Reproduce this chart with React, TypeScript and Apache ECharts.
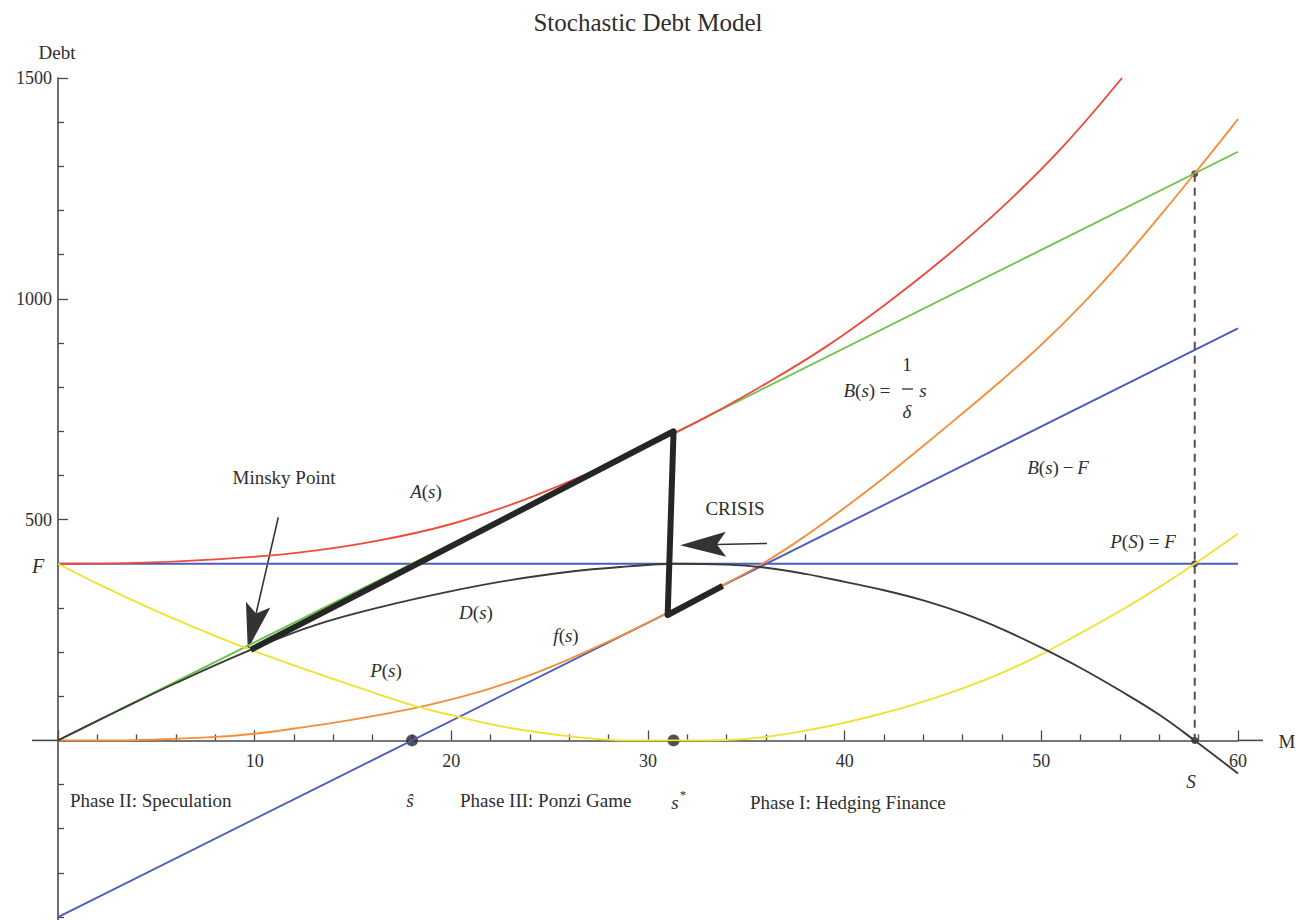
import React, { useEffect, useRef } from "react";
import * as echarts from "echarts";

const SERIF = '"Liberation Serif", "Times New Roman", serif';
const INK = "#2e2e2e";

// Curves as [s, debt] pairs
const aCurve = [
  [0, 400], [4, 402], [8, 410], [12, 424], [16, 450], [20, 490], [24, 550], [28, 625],
  [31, 688], [33, 733], [36, 808], [39, 890], [42, 985], [45, 1090], [48, 1207],
  [51, 1340], [54.1, 1500],
];
const bLine = [[0, 0], [60, 1333]];
const bMinusF = [[0, -400], [60, 933]];
const fLevel = [[0, 400], [60, 400]];
const fCurve = [
  [0, 0], [3, 0], [5, 2], [8, 8], [10, 15], [12, 27], [15, 47], [18, 72], [20, 93],
  [22, 118], [24, 148], [26, 184], [28, 224], [30, 267], [32, 311], [34, 356], [36, 405],
  [38, 463], [40, 527], [42, 595], [44, 667], [46, 741], [48, 816], [50, 896], [52, 984],
  [54, 1081], [56, 1186], [58, 1295], [60, 1407],
];
const pCurve = [
  [0, 400], [2, 355], [4.5, 303], [7, 255], [9.5, 210], [12, 170], [15, 124], [18, 80],
  [20.4, 53], [23, 28], [25.5, 12], [27.5, 3], [29, 0], [32, 0], [34, 1], [36, 8],
  [38, 22], [40, 40], [42, 62], [44, 88], [46, 118], [48, 153], [50, 195], [52, 243],
  [54, 293], [56, 347], [57.8, 400], [60, 468],
];
const dCurve = [
  [0, 0], [3, 66], [6, 130], [9.8, 205], [13, 260], [16.5, 303], [20, 338], [23, 363],
  [26, 382], [29, 394], [31.3, 400], [34, 398], [36, 391], [38, 377], [40, 359], [42, 340],
  [44, 317], [46, 288], [48, 252], [50, 210], [52, 164], [54, 113], [56, 58], [58, -7],
  [60, -75],
];
// Boom, crisis and collapse path
const cyclePath = [[9.8, 205], [31.3, 700], [31.0, 284], [33.8, 350]];
const sLine = [[57.8, 1283], [57.8, 0]];
const bigDots = [[18, 0], [31.3, 0]];
const smallDots = [[57.8, 1283], [57.8, 400], [57.8, 0]];
// Annotation arrows: [tailS, tailDebt, tipS, tipDebt]
const arrows = [
  [11.2, 505, 9.65, 206],
  [36.05, 446, 31.63, 442],
];
const xLabelSkip = [0];
const yTickLabels = [500, 1000, 1500];

const RED = "#ee4b3d";
const GREEN = "#6fc150";
const ORANGE = "#f58e3c";
const BLUE = "#4a5cbd";
const YELLOW = "#efe232";
const DARK = "#3a3a3a";

// plot frame in pixels: s = 0..60, debt = -500..1500
const GRID_TOP = 78;
const GRID_LEFT = 58;
const GRID_W = 1180;
const GRID_H = 883.2;
const ZERO_Y = GRID_TOP + (GRID_H * 1500) / 2000;

const curve = (name: string, data: number[][], color: string, smooth: boolean) => ({
  type: "line",
  name,
  data,
  symbol: "none",
  showSymbol: false,
  smooth: smooth ? 0.4 : false,
  lineStyle: { color, width: 1.9 },
  silent: true,
});

const italic = { fontStyle: "italic", fontFamily: SERIF, fontSize: 19, fill: INK };

const txt = (x: number, y: number, text: string, size = 19, align = "center") => ({
  type: "text",
  x,
  y,
  silent: true,
  style: {
    text,
    fontFamily: SERIF,
    fontSize: size,
    fill: INK,
    align,
    verticalAlign: "middle",
    rich: { i: { ...italic, fontSize: size } },
  },
});

function arrowItem(params: any, api: any) {
  const p1 = api.coord([api.value(0), api.value(1)]);
  const p2 = api.coord([api.value(2), api.value(3)]);
  const len = 46;
  const half = 12.5;
  const dx = p2[0] - p1[0];
  const dy = p2[1] - p1[1];
  const d = Math.sqrt(dx * dx + dy * dy);
  const ux = dx / d;
  const uy = dy / d;
  const base = [p2[0] - ux * len, p2[1] - uy * len];
  const notch = [p2[0] - ux * len * 0.8, p2[1] - uy * len * 0.8];
  const nx = -uy;
  const ny = ux;
  return {
    type: "group",
    children: [
      {
        type: "line",
        shape: { x1: p1[0], y1: p1[1], x2: notch[0], y2: notch[1] },
        style: { stroke: "#333", lineWidth: 1.6 },
      },
      {
        type: "polygon",
        shape: {
          points: [
            p2,
            [base[0] + nx * half, base[1] + ny * half],
            notch,
            [base[0] - nx * half, base[1] - ny * half],
          ],
        },
        style: { fill: "#333" },
      },
    ],
  };
}

export default function App() {
  const ref = useRef<HTMLDivElement>(null);

  useEffect(() => {
    if (!ref.current) return;
    const chart = echarts.init(ref.current, null, { renderer: "svg" });
    const axisColor = "#4a4a4a";
    chart.setOption({
      animation: false,
      backgroundColor: "#ffffff",
      textStyle: { fontFamily: SERIF },
      grid: {
        left: GRID_LEFT,
        top: GRID_TOP,
        width: GRID_W,
        height: GRID_H,
        containLabel: false,
        outerBoundsMode: "none",
      },
      xAxis: {
        type: "value",
        min: 0,
        max: 60,
        interval: 10,
        position: "bottom",
        offset: -(GRID_TOP + GRID_H - ZERO_Y),
        axisLine: { onZero: false, lineStyle: { color: axisColor, width: 1.6 } },
        axisTick: { inside: true, length: 10, lineStyle: { color: axisColor, width: 1.3 } },
        minorTick: { show: true, splitNumber: 5, length: 6, lineStyle: { color: axisColor, width: 1.3 } },
        splitLine: { show: false },
        axisLabel: {
          margin: 12,
          fontFamily: SERIF,
          fontSize: 18,
          color: INK,
          formatter: (v: number) => (xLabelSkip.includes(v) ? "" : String(v)),
        },
      },
      yAxis: {
        type: "value",
        min: -500,
        max: 1500,
        interval: 500,
        axisLine: { onZero: false, lineStyle: { color: axisColor, width: 1.6 } },
        axisTick: { inside: true, length: 10, lineStyle: { color: axisColor, width: 1.3 } },
        minorTick: { show: true, splitNumber: 5, length: 6, lineStyle: { color: axisColor, width: 1.3 } },
        splitLine: { show: false },
        axisLabel: {
          margin: 6,
          fontFamily: SERIF,
          fontSize: 18,
          color: INK,
          formatter: (v: number) => (yTickLabels.includes(v) ? String(v) : ""),
        },
      },
      series: [
        curve("F", fLevel, BLUE, false),
        curve("B(s)-F", bMinusF, BLUE, false),
        curve("B(s)", bLine, GREEN, false),
        curve("A(s)", aCurve, RED, true),
        curve("f(s)", fCurve, ORANGE, true),
        curve("P(s)", pCurve, YELLOW, true),
        curve("D(s)", dCurve, DARK, true),
        {
          type: "line",
          name: "cycle",
          data: cyclePath,
          symbol: "none",
          silent: true,
          lineStyle: { color: "#262626", width: 6, join: "round", cap: "butt" },
        },
        {
          type: "line",
          name: "S",
          data: sLine,
          symbol: "none",
          silent: true,
          lineStyle: { color: "#505050", width: 2, type: [8, 6] },
        },
        {
          type: "scatter",
          data: bigDots,
          symbolSize: 12,
          silent: true,
          itemStyle: { color: "#252525" },
        },
        {
          type: "scatter",
          data: smallDots,
          symbolSize: 7,
          silent: true,
          itemStyle: { color: "#252525" },
        },
        {
          type: "custom",
          data: arrows,
          silent: true,
          encode: { x: [0, 2], y: [1, 3] },
          renderItem: arrowItem,
        },
      ],
      graphic: [
        // x-axis runs a little past the plot range on both sides
        { type: "line", silent: true, shape: { x1: 32, y1: ZERO_Y, x2: GRID_LEFT, y2: ZERO_Y }, style: { stroke: axisColor, lineWidth: 1.6 } },
        { type: "line", silent: true, shape: { x1: GRID_LEFT + GRID_W, y1: ZERO_Y, x2: 1263, y2: ZERO_Y }, style: { stroke: axisColor, lineWidth: 1.6 } },
        txt(648, 22, "Stochastic Debt Model", 25),
        txt(57, 52, "Debt", 19),
        txt(1287, 741, "M", 19),
        txt(38, 566, "{i|F}", 20),
        txt(1191, 781, "{i|S}", 19),
        txt(410, 800, "{i|ŝ}", 19),
        txt(675, 802, "{i|s}", 19),
        txt(683, 794, "*", 13),
        txt(70, 800, "Phase II: Speculation", 19, "left"),
        txt(460, 800, "Phase III: Ponzi Game", 19, "left"),
        txt(750, 802, "Phase I: Hedging Finance", 19, "left"),
        txt(284, 477, "Minsky Point", 19),
        txt(735, 508, "CRISIS", 19),
        txt(426, 491, "{i|A}({i|s})", 19),
        txt(476, 612, "{i|D}({i|s})", 19),
        txt(566, 635, "{i|f}({i|s})", 19),
        txt(386, 670, "{i|P}({i|s})", 19),
        txt(867, 390, "{i|B}({i|s}) =", 19),
        txt(907, 364, "1", 19),
        { type: "line", silent: true, shape: { x1: 902, y1: 389, x2: 913, y2: 389 }, style: { stroke: INK, lineWidth: 1.3 } },
        txt(907, 411, "{i|δ}", 19),
        txt(923, 390, "{i|s}", 19),
        txt(1058, 467, "{i|B}({i|s})\u2009−\u2009{i|F}", 19),
        txt(1143, 541, "{i|P}({i|S}) = {i|F}", 19),
      ],
    });
    return () => chart.dispose();
  }, []);

  return (
    <div
      ref={ref}
      style={{ position: "fixed", left: 0, top: 0, width: 1296, height: 920, background: "#fff" }}
    />
  );
}
